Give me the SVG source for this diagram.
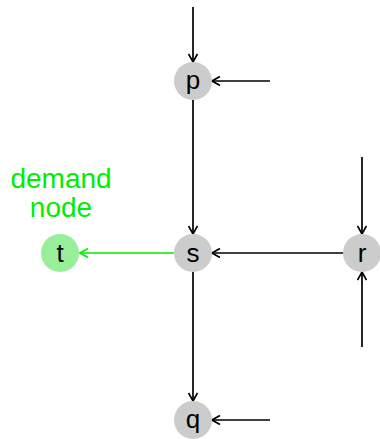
<svg xmlns="http://www.w3.org/2000/svg" width="380" height="439" viewBox="0 0 380 439">
<defs>
<marker id="ah" viewBox="0 0 10 10" refX="9" refY="5" markerWidth="10" markerHeight="10" markerUnits="userSpaceOnUse" orient="auto">
<path d="M1,0.5 L9,5 L1,9.5" fill="none" stroke="#000" stroke-width="1.7"/>
</marker>
<marker id="ahg" viewBox="0 0 10 10" refX="9" refY="5" markerWidth="10" markerHeight="10" markerUnits="userSpaceOnUse" orient="auto">
<path d="M1,0.5 L9,5 L1,9.5" fill="none" stroke="#00ee00" stroke-width="1.7"/>
</marker>
</defs>
<style>
.n{fill:#cccccc;}
.lbl{font-family:"Liberation Sans",Arial,sans-serif;font-size:26px;text-anchor:middle;fill:#000;}
.e{stroke:#000;stroke-width:1.7;fill:none;marker-end:url(#ah);}
.g{stroke:#00ee00;stroke-width:1.7;fill:none;marker-end:url(#ahg);}
.note{font-family:"Liberation Sans",Arial,sans-serif;font-size:28px;text-anchor:middle;fill:#00ee00;}
</style>
<g id="edges">
<line class="e" x1="193" y1="7" x2="193" y2="62"/>
<line class="e" x1="270" y1="81" x2="212" y2="81"/>
<line class="e" x1="193" y1="100" x2="193" y2="234"/>
<line class="e" x1="344" y1="253" x2="212" y2="253"/>
<line class="g" x1="174" y1="253" x2="80" y2="253"/>
<line class="e" x1="362" y1="157" x2="362" y2="234"/>
<line class="e" x1="362" y1="347" x2="362" y2="272"/>
<line class="e" x1="193" y1="272" x2="193" y2="401"/>
<line class="e" x1="270" y1="420" x2="212" y2="420"/>
</g>
<g id="p"><circle class="n" cx="193" cy="81" r="19"/><text class="lbl" x="193" y="89">p</text></g>
<g id="s"><circle class="n" cx="193" cy="253" r="19"/><text class="lbl" x="193" y="262">s</text></g>
<g id="r"><circle class="n" cx="362" cy="253" r="19"/><text class="lbl" x="362" y="262">r</text></g>
<g id="t"><circle cx="60" cy="253" r="19" fill="#99ee99"/><text class="lbl" x="60" y="262">t</text></g>
<g id="q"><circle class="n" cx="193" cy="420" r="19"/><text class="lbl" x="193" y="428">q</text></g>
<g id="label"><text class="note" x="61" y="188">demand</text><text class="note" x="61" y="217">node</text></g>
</svg>
